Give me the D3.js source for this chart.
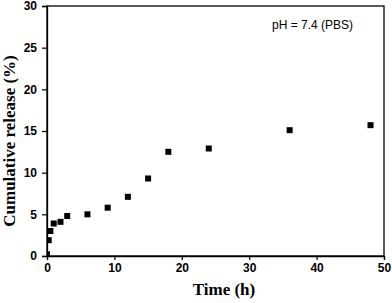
<!DOCTYPE html>
<html>
<head>
<meta charset="utf-8">
<style>
  body { margin: 0; background: #fff; }
  svg { display: block; }
</style>
</head>
<body>
<svg id="chart"></svg>
<script src="https://cdn.jsdelivr.net/npm/d3@7"></script>
<script>
// release data
var timeH = [0, 0.25, 0.5, 1, 2, 3, 6, 9, 12, 15, 18, 24, 36, 48];
var release = [0.2, 1.9, 3.0, 3.9, 4.1, 4.8, 5.0, 5.8, 7.1, 9.3, 12.5, 12.9, 15.1, 15.7];
var xTicks = [0, 10, 20, 30, 40, 50];
var yTicks = [0, 5, 10, 15, 20, 25, 30];

var width = 392, height = 303;
var margin = {left: 47, right: 8, top: 6, bottom: 47};

var svg = d3.select("#chart")
    .attr("width", width)
    .attr("height", height);

var x = d3.scaleLinear().domain([0, 50]).range([margin.left, width - margin.right]);
var y = d3.scaleLinear().domain([0, 30]).range([height - margin.bottom, margin.top]);

svg.append("defs").append("clipPath").attr("id", "plotclip")
  .append("rect")
    .attr("x", x(0)).attr("y", y(30))
    .attr("width", x(50) - x(0)).attr("height", y(0) - y(30));

// frame
svg.append("rect")
    .attr("x", x(0)).attr("y", y(30))
    .attr("width", x(50) - x(0)).attr("height", y(0) - y(30))
    .attr("fill", "none").attr("stroke", "#000").attr("stroke-width", 1.3);

var xAxis = svg.append("g")
    .attr("transform", "translate(0," + y(0) + ")")
    .call(d3.axisBottom(x).tickValues(xTicks).tickSize(4).tickPadding(3));

var yAxis = svg.append("g")
    .attr("transform", "translate(" + x(0) + ",0)")
    .call(d3.axisLeft(y).tickValues(yTicks).tickSize(5).tickPadding(5));

[xAxis, yAxis].forEach(function(a) {
  a.select(".domain").attr("stroke-width", 1.3);
  a.selectAll(".tick line").attr("stroke-width", 1.2);
  a.selectAll("text")
    .style("font-family", "'Liberation Sans', Arial, sans-serif")
    .style("font-weight", "bold")
    .style("font-size", "12px")
    .attr("fill", "#000");
});

// markers
svg.append("g").attr("clip-path", "url(#plotclip)")
  .selectAll("rect")
  .data(timeH)
  .enter().append("rect")
    .attr("x", function(d) { return x(d) - 3; })
    .attr("y", function(d, i) { return y(release[i]) - 3; })
    .attr("width", 6).attr("height", 6)
    .attr("fill", "#000");

// axis titles
svg.append("text")
    .attr("x", 224).attr("y", 295)
    .attr("text-anchor", "middle")
    .style("font-family", "'Liberation Serif', 'Times New Roman', serif")
    .style("font-weight", "bold")
    .style("font-size", "17px")
    .text("Time (h)");

svg.append("text")
    .attr("transform", "translate(15," + 141 + ") rotate(-90)")
    .attr("text-anchor", "middle")
    .style("font-family", "'Liberation Serif', 'Times New Roman', serif")
    .style("font-weight", "bold")
    .style("font-size", "17px")
    .text("Cumulative release (%)");

svg.append("text")
    .attr("x", 272).attr("y", 29)
    .style("font-family", "'Liberation Sans', Arial, sans-serif")
    .style("font-size", "12px")
    .text("pH = 7.4 (PBS)");
</script>
</body>
</html>
